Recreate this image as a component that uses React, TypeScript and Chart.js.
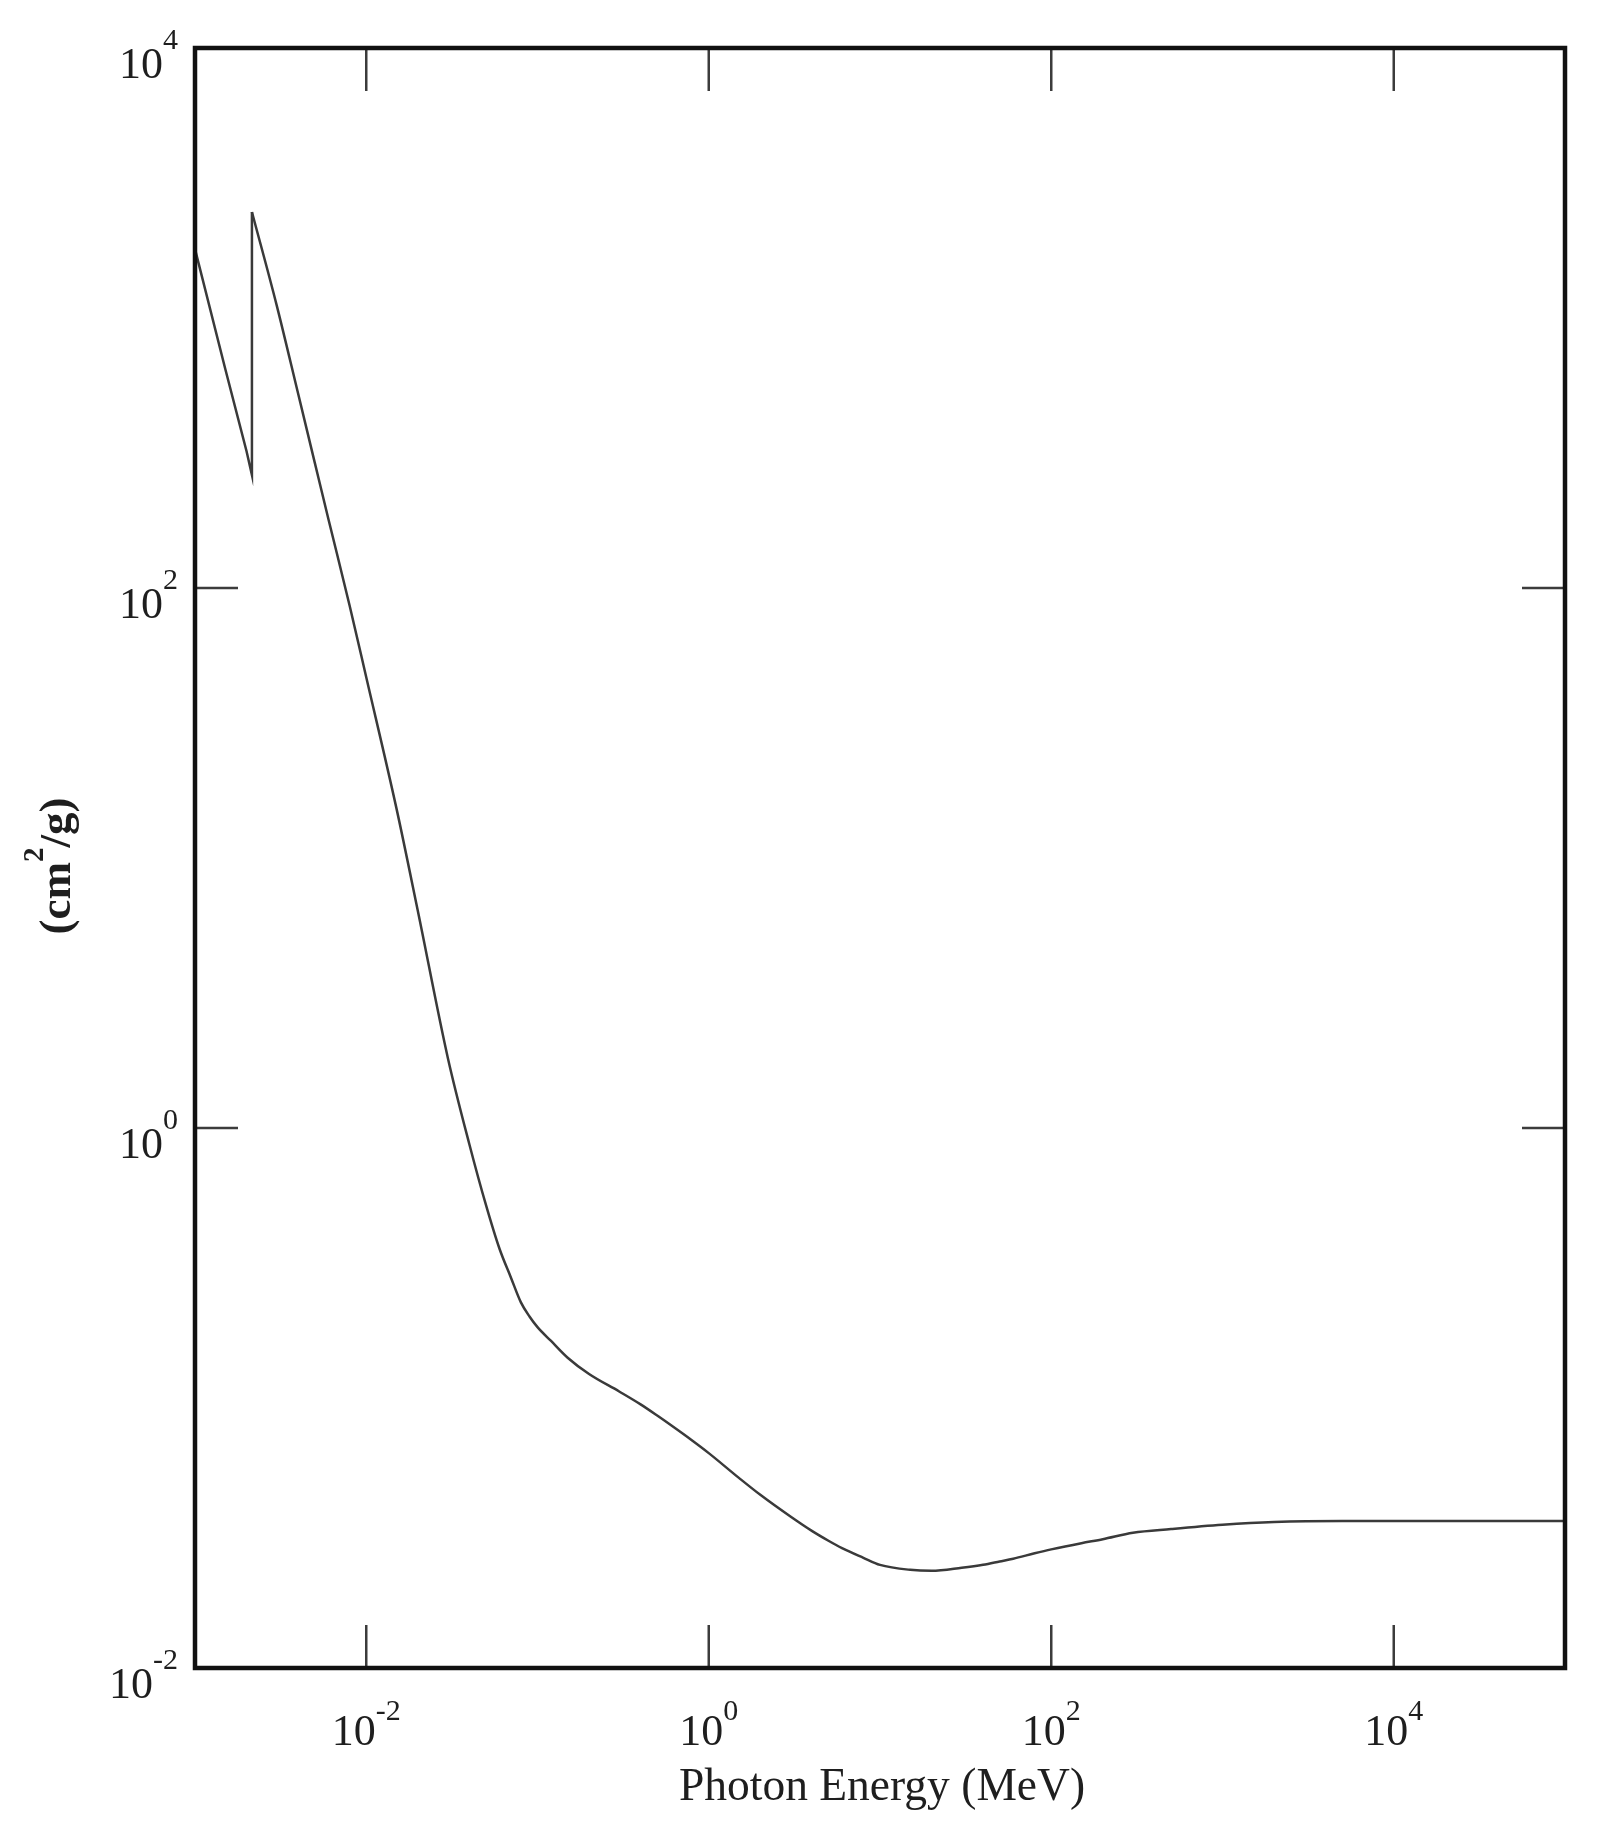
import React, { useEffect, useRef } from "react";
import { Chart, registerables } from "chart.js";

Chart.register(...registerables);

// Photon energy (MeV) and mass attenuation coefficient (cm^2/g)
const ENERGY_MEV = [
  1.0e-3, 1.5e-3, 2.0e-3, 2.15e-3, 2.15e-3, 3.0e-3, 4.0e-3, 5.0e-3, 6.0e-3, 8.0e-3,
  1.0e-2, 1.5e-2, 2.0e-2, 3.0e-2, 4.0e-2, 5.0e-2, 6.0e-2, 7.0e-2, 8.0e-2, 9.0e-2,
  0.1, 0.12, 0.15, 0.2, 0.3, 0.4, 0.5, 0.6, 0.8,
  1, 1.5, 2, 3, 4, 5, 6, 8,
  10, 15, 20, 30, 40, 50, 60, 80,
  100, 150, 200, 300, 500,
  1000, 2000, 5000, 10000, 100000,
];
const MU_CM2_G = [
  1800, 650, 321, 262, 2470, 1114, 525, 292, 181, 86,
  46.7, 15.3, 6.38, 1.81, 0.871, 0.519, 0.357, 0.279, 0.226, 0.2,
  0.183, 0.1626, 0.141, 0.1227, 0.1057, 0.0947, 0.0861, 0.0794, 0.0696,
  0.0625, 0.0506, 0.0438, 0.0364, 0.0322, 0.0296, 0.0278, 0.0256,
  0.0241, 0.0231, 0.0229, 0.0235, 0.0241, 0.0248, 0.0254, 0.0266,
  0.0275, 0.029, 0.03, 0.0317, 0.0327,
  0.0339, 0.0347, 0.035, 0.035, 0.035,
];

const X_TICK_VALUES = [1e-2, 1e0, 1e2, 1e4];
const Y_TICK_VALUES = [1e-2, 1e0, 1e2, 1e4];
const X_MIN = 1e-3;
const X_MAX = 1e5;
const Y_MIN = 1e-2;
const Y_MAX = 1e4;
const X_TITLE = "Photon Energy (MeV)";
const Y_TITLE_PARTS = ["(cm", "2", "/g)"];

const SERIF = '"Liberation Serif", "Times New Roman", serif';
const TEXT = "#1e1e1e";
const LINE = "#3a3a3a";

const framePlugin = {
  id: "frameAndLabels",
  beforeDraw(chart: any) {
    const ctx = chart.ctx;
    ctx.save();
    ctx.fillStyle = "#fff";
    ctx.fillRect(0, 0, chart.width, chart.height);
    ctx.restore();
  },
  afterDraw(chart: any) {
    const ctx = chart.ctx as CanvasRenderingContext2D;
    const { left, right, top, bottom } = chart.chartArea;
    const xs = chart.scales.x;
    const ys = chart.scales.y;
    const TICK = 43;
    ctx.save();

    // inward ticks on all four sides
    ctx.strokeStyle = "#3c3c3c";
    ctx.lineWidth = 2.5;
    ctx.beginPath();
    X_TICK_VALUES.forEach((v) => {
      const px = xs.getPixelForValue(v);
      if (px > left + 2 && px < right - 2) {
        ctx.moveTo(px, bottom);
        ctx.lineTo(px, bottom - TICK);
        ctx.moveTo(px, top);
        ctx.lineTo(px, top + TICK);
      }
    });
    Y_TICK_VALUES.forEach((v) => {
      const py = ys.getPixelForValue(v);
      if (py > top + 2 && py < bottom - 2) {
        ctx.moveTo(left, py);
        ctx.lineTo(left + TICK, py);
        ctx.moveTo(right, py);
        ctx.lineTo(right - TICK, py);
      }
    });
    ctx.stroke();

    // frame
    ctx.strokeStyle = "#111";
    ctx.lineWidth = 4.5;
    ctx.strokeRect(left, top, right - left, bottom - top);

    ctx.fillStyle = TEXT;
    ctx.textBaseline = "alphabetic";

    // y tick labels
    Y_TICK_VALUES.forEach((v) => {
      const py = ys.getPixelForValue(v);
      const exp = String(Math.round(Math.log10(v)));
      ctx.font = `30px ${SERIF}`;
      const ew = ctx.measureText(exp).width;
      ctx.textAlign = "right";
      const xr = left - 17;
      ctx.fillText(exp, xr, py + 1);
      ctx.font = `44px ${SERIF}`;
      ctx.fillText("10", xr - ew, py + 30);
    });

    // x tick labels
    X_TICK_VALUES.forEach((v) => {
      const px = xs.getPixelForValue(v);
      const exp = String(Math.round(Math.log10(v)));
      ctx.font = `44px ${SERIF}`;
      const w10 = ctx.measureText("10").width;
      ctx.font = `30px ${SERIF}`;
      const ew = ctx.measureText(exp).width;
      const x0 = px - (w10 + ew) / 2;
      ctx.textAlign = "left";
      ctx.font = `44px ${SERIF}`;
      ctx.fillText("10", x0, bottom + 77);
      ctx.font = `30px ${SERIF}`;
      ctx.fillText(exp, x0 + w10, bottom + 52);
    });

    // x title
    ctx.font = `45.5px ${SERIF}`;
    ctx.textAlign = "center";
    ctx.fillText(X_TITLE, (left + right) / 2 + 2, bottom + 132);

    // y title (rotated)
    ctx.save();
    ctx.translate(70, (top + bottom) / 2 + 8);
    ctx.rotate(-Math.PI / 2);
    const mainFont = `bold 45px ${SERIF}`;
    const supFont = `bold 29px ${SERIF}`;
    ctx.font = mainFont;
    const w0 = ctx.measureText(Y_TITLE_PARTS[0]).width;
    const w2 = ctx.measureText(Y_TITLE_PARTS[2]).width;
    ctx.font = supFont;
    const w1 = ctx.measureText(Y_TITLE_PARTS[1]).width;
    const total = w0 + w1 + w2;
    let cx = -total / 2;
    ctx.textAlign = "left";
    ctx.font = mainFont;
    ctx.fillText(Y_TITLE_PARTS[0], cx, 0);
    cx += w0;
    ctx.font = supFont;
    ctx.fillText(Y_TITLE_PARTS[1], cx, -27);
    cx += w1;
    ctx.font = mainFont;
    ctx.fillText(Y_TITLE_PARTS[2], cx, 0);
    ctx.restore();

    ctx.restore();
  },
};

export default function App() {
  const canvasRef = useRef<HTMLCanvasElement | null>(null);

  useEffect(() => {
    const canvas = canvasRef.current;
    if (!canvas) return;
    const points = ENERGY_MEV.map((e, i) => ({ x: e, y: MU_CM2_G[i] }));
    // split at the absorption edge (repeated energy): straight part up to the edge, smooth part after
    let edge = 0;
    for (let i = 1; i < ENERGY_MEV.length; i++) {
      if (ENERGY_MEV[i] === ENERGY_MEV[i - 1]) {
        edge = i;
        break;
      }
    }
    const before = points.slice(0, edge + 1);
    const after = points.slice(edge);
    const common = {
      borderColor: LINE,
      borderWidth: 2.5,
      pointRadius: 0,
      fill: false,
    };
    const chart = new Chart(canvas, {
      type: "line",
      data: {
        datasets: [
          { ...common, data: before, tension: 0 },
          { ...common, data: after, cubicInterpolationMode: "monotone" },
        ],
      },
      options: {
        animation: false,
        responsive: false,
        devicePixelRatio: 1,
        layout: { padding: { left: 195, right: 39, top: 48, bottom: 159 } },
        plugins: {
          legend: { display: false },
          tooltip: { enabled: false },
        },
        scales: {
          x: { type: "logarithmic", min: X_MIN, max: X_MAX, display: false },
          y: { type: "logarithmic", min: Y_MIN, max: Y_MAX, display: false },
        },
      },
      plugins: [framePlugin],
    } as any);
    return () => chart.destroy();
  }, []);

  return (
    <div style={{ position: "absolute", left: 0, top: 0, width: 1604, height: 1827 }}>
      <canvas ref={canvasRef} width={1604} height={1827} style={{ display: "block" }} />
    </div>
  );
}
